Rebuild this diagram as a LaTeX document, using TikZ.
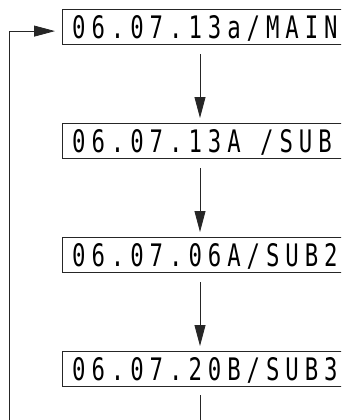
\documentclass[tikz,border=0pt]{standalone}
\usepackage{fontspec}
\newfontfamily\lcdfont[FakeStretch=0.72,LetterSpace=19.2]{DejaVu Sans Mono}
\newcommand\lcdsize{\fontsize{31}{31}\selectfont\setlength{\spaceskip}{19.4pt}}
\usetikzlibrary{arrows.meta,calc,positioning}
\tikzset{
    lcdbox/.style={draw=black!85,line width=1.2pt,anchor=north west,
        minimum height=35pt,minimum width=300pt,inner sep=0pt},
    lcdtext/.style={inner sep=0pt,text height=22.6pt,text depth=0pt,font=\lcdfont\lcdsize},
    flowarrow/.style={draw=black!85,line width=0.8pt,-{Triangle[length=21pt,width=11pt]}},
    flowline/.style={draw=black!85,line width=0.8pt}
}
\begin{document}
\begin{tikzpicture}[x=1pt,y=-1pt]
  \useasboundingbox (0,0) rectangle (341,420);
  \clip (0,0) rectangle (341,420);
  \coordinate (axis) at (200,0);
  \node[lcdbox] (main)     at (62,9)   {};
  \node[lcdbox] (sub)      at (62,123) {};
  \node[lcdbox] (subtwo)   at (62,237) {};
  \node[lcdbox] (subthree) at (62,351) {};
  \node[lcdtext,right=10pt of main.west]     (maintext)     {06.07.13a/MAIN};
  \node[lcdtext,right=10pt of sub.west]      (subtext)      {06.07.13A /SUB};
  \node[lcdtext,right=10pt of subtwo.west]   (subtwotext)   {06.07.06A/SUB2};
  \node[lcdtext,right=10pt of subthree.west] (subthreetext) {06.07.20B/SUB3};
  \draw[flowarrow] ([yshift=-9pt]main.south -| axis) -- ([yshift=5pt]sub.north -| axis);
  \draw[flowarrow] ([yshift=-9pt]sub.south -| axis) -- ([yshift=5pt]subtwo.north -| axis);
  \draw[flowarrow] ([yshift=-9pt]subtwo.south -| axis) -- ([yshift=5pt]subthree.north -| axis);
  % line leaving the last box and the way back to the top
  \coordinate (bottom) at (200,425);
  \coordinate (loopstart) at (9,425);
  \draw[flowline] ([yshift=-8pt]subthree.south -| axis) -- (bottom);
  \draw[flowarrow] (loopstart) |- ([shift={(-7pt,-4pt)}]main.west);
\end{tikzpicture}
\end{document}
